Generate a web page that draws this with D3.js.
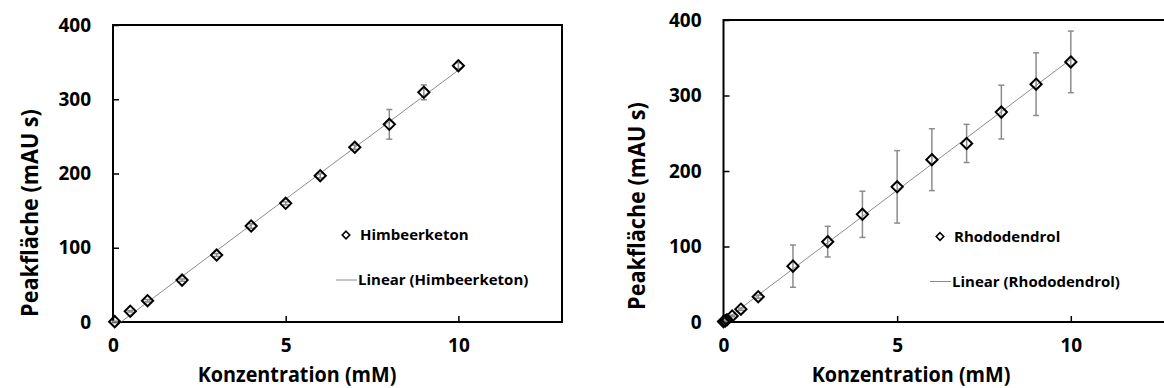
<!DOCTYPE html>
<html>
<head>
<meta charset="utf-8">
<script src="https://cdn.jsdelivr.net/npm/d3@7"></script>
<style>
  html, body { margin: 0; padding: 0; background: #fff; }
  svg { display: block; font-family: "Open Sans", sans-serif; font-weight: bold; }
</style>
</head>
<body>
<div id="chart"></div>
<script>
// values
const himX = [0.05, 0.5, 1, 2, 3, 4, 5, 6, 7, 8, 9, 10]
const himY = [0.5, 14.5, 28.7, 56.4, 90.2, 129.3, 159.8, 197, 235.3, 266.2, 309.3, 345.2]
const himErr = [0.5, 1, 1.5, 1.5, 2, 3, 2, 3, 3, 20, 10, 4]

const rhoX = [0, 0.05, 0.1, 0.25, 0.5, 1, 2, 3, 4, 5, 6, 7, 8, 9, 10]
const rhoY = [0.5, 1.5, 3, 8, 17, 33.5, 74, 106.4, 142.6, 179, 215, 236.5, 278, 315, 344.5]
const rhoErr = [0.3, 0.5, 0.5, 1, 1.5, 2, 28, 20.3, 30.6, 48, 41, 25.3, 35.6, 41.5, 40.8]

const xTicks = [0, 5, 10]
const yTicks = [0, 100, 200, 300, 400]
const xTitle = 'Konzentration (mM)'
const yTitle = 'Peakfläche (mAU s)'

const width = 1164
const height = 388

const svg = d3.select('#chart').append('svg')
  .attr('width', width)
  .attr('height', height)

svg.append('rect').attr('width', width).attr('height', height).attr('fill', '#fff')

const diamond = d3.symbol().type(d3.symbolDiamond2)

function fit(xs, ys) {
  const mx = d3.mean(xs), my = d3.mean(ys)
  let sxy = 0, sxx = 0
  xs.forEach((x, i) => { sxy += (x - mx) * (ys[i] - my); sxx += (x - mx) * (x - mx) })
  const k = sxy / sxx
  return { k, b: my - k * mx }
}

function styleAxis(a) {
  a.attr('font-family', null).attr('font-size', null)
  a.select('.domain').remove()
  a.selectAll('line').attr('stroke-width', 1.5)
  a.selectAll('text').attr('font-size', 19).attr('fill', '#000')
}

function panel(o) {
  const x = d3.scaleLinear().domain([0, 13]).range([o.left, o.right])
  const y = d3.scaleLinear().domain([0, 400]).range([322, o.top])
  const g = svg.append('g')
  const pts = o.xs.map((v, i) => ({ x: v, y: o.ys[i], e: o.err[i] }))

  // plot box
  g.append('rect')
    .attr('x', x(0)).attr('y', y(400))
    .attr('width', x(13) - x(0)).attr('height', y(0) - y(400))
    .attr('fill', 'none').attr('stroke', '#000').attr('stroke-width', 2)

  // inside ticks
  g.append('g').attr('transform', `translate(0,${y(0)})`)
    .call(d3.axisBottom(x).tickValues(xTicks).tickSizeInner(-6).tickSizeOuter(0).tickPadding(17))
    .call(styleAxis)
  g.append('g').attr('transform', `translate(${x(0)},0)`)
    .call(d3.axisLeft(y).tickValues(yTicks).tickSizeInner(-6).tickSizeOuter(0).tickPadding(22))
    .call(styleAxis)

  // trend line
  const f = fit(o.xs, o.ys)
  const ends = d3.extent(o.xs)
  g.append('line')
    .attr('x1', x(ends[0])).attr('y1', y(f.k * ends[0] + f.b))
    .attr('x2', x(ends[1])).attr('y2', y(f.k * ends[1] + f.b))
    .attr('stroke', '#8c8c8c').attr('stroke-width', 1)

  // error bars
  const eb = g.append('g').attr('stroke', '#8c8c8c').attr('stroke-width', 1.5)
  pts.forEach(d => {
    eb.append('line').attr('x1', x(d.x)).attr('x2', x(d.x)).attr('y1', y(d.y - d.e)).attr('y2', y(d.y + d.e))
    eb.append('line').attr('x1', x(d.x) - 3).attr('x2', x(d.x) + 3).attr('y1', y(d.y - d.e)).attr('y2', y(d.y - d.e))
    eb.append('line').attr('x1', x(d.x) - 3).attr('x2', x(d.x) + 3).attr('y1', y(d.y + d.e)).attr('y2', y(d.y + d.e))
  })

  // markers
  g.selectAll('.pt').data(pts).join('path')
    .attr('class', 'pt')
    .attr('d', diamond.size(80))
    .attr('transform', d => `translate(${x(d.x)},${y(d.y)})`)
    .attr('fill', 'none').attr('stroke', '#000').attr('stroke-width', 2)

  // axis titles (squeezed a little to get the narrow office font look)
  g.append('text')
    .attr('transform', `translate(${o.xTitleX},381.5) scale(0.9,1)`)
    .attr('text-anchor', 'middle').attr('font-size', 22)
    .text(xTitle)
  g.append('text')
    .attr('transform', `translate(${o.yTitleX},${o.yTitleY}) rotate(-90) scale(0.9,1)`)
    .attr('text-anchor', 'middle').attr('font-size', 24)
    .text(yTitle)

  // legend
  const lg = g.append('g').attr('font-size', 15)
  lg.append('path')
    .attr('d', diamond.size(36))
    .attr('transform', `translate(${o.legX},${o.legY})`)
    .attr('fill', 'none').attr('stroke', '#000').attr('stroke-width', 1.6)
  lg.append('text').attr('x', o.legX + 14).attr('y', o.legY + 5).text(o.name)
  lg.append('line')
    .attr('x1', o.legX - 10).attr('x2', o.legX + 11)
    .attr('y1', o.legY + 45).attr('y2', o.legY + 45)
    .attr('stroke', '#8c8c8c').attr('stroke-width', 1)
  lg.append('text').attr('x', o.legX + 12).attr('y', o.legY + 50).text(`Linear (${o.name})`)
}

panel({
  xs: himX, ys: himY, err: himErr, name: 'Himbeerketon',
  left: 113, right: 562, top: 25,
  xTitleX: 297, yTitleX: 38, yTitleY: 213,
  legX: 346, legY: 235
})

panel({
  xs: rhoX, ys: rhoY, err: rhoErr, name: 'Rhododendrol',
  left: 723.5, right: 1175, top: 20,
  xTitleX: 911, yTitleX: 645, yTitleY: 206,
  legX: 940, legY: 236.5
})
</script>
</body>
</html>
